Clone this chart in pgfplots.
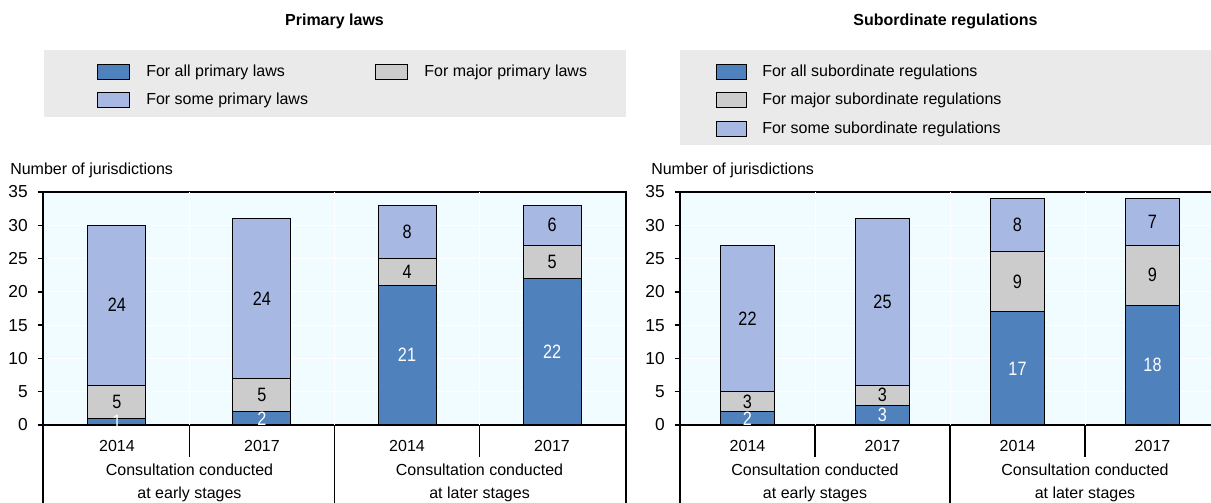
\documentclass[border=0pt]{standalone}
\usepackage{pgfplots}
\pgfplotsset{compat=1.18}
\usepackage{fontspec}
\setmainfont{Liberation Sans}
\newfontfamily\narrowfont{Liberation Sans}[FakeStretch=0.84]
\definecolor{cDark}{RGB}{79,129,189}
\definecolor{cGray}{RGB}{204,204,204}
\definecolor{cLight}{RGB}{167,185,227}
\definecolor{cBg}{RGB}{240,252,255}
\definecolor{cLeg}{RGB}{234,234,234}
\newcommand{\fs}{\fontsize{12}{14}\selectfont}
\newcommand{\fl}{\narrowfont\fontsize{14.5}{16}\selectfont}

\pgfplotsset{
  panel/.style={
    scale only axis,
    anchor=south west,
    height=174.75pt,
    ymin=0, ymax=35,
    ytick={0,5,...,35},
    ytick pos=left,
    xtick={0,1,2,3},
    xticklabels={2014,2017,2014,2017},
    xtick pos=bottom,
    major x tick style={draw=none},
    ymajorgrids,
    major grid style={white, line width=0.75pt},
    extra x ticks={0.5,1.5,2.5},
    extra x tick labels={},
    extra x tick style={grid=major, tick style={draw=none}},
    axis background/.style={fill=cBg},
    axis line style={line width=1pt},
    ybar stacked,
    tick align=outside,
    major tick length=4pt,
    ytick style={line width=1pt, black},
    tick label style={font=\fs},
    /pgf/number format/assume math mode=true,
    yticklabel style={inner sep=0pt, anchor=east, xshift=-7.25pt, font=\fontsize{13}{15}\selectfont},
    xticklabel style={anchor=base, inner sep=0pt, yshift=-15.75pt},
    legend style={draw=none, fill=none, inner sep=0pt, font=\fs, anchor=north west,
      nodes={inner sep=0pt},
      row sep=9.4pt},
    legend cell align=left,
    clip=false,
  },
  labels/.style={
    scale only axis, anchor=south west, height=174.75pt,
    ymin=0, ymax=35, hide axis, clip=false,
  },
  lblw/.style={draw=none, nodes near coords, point meta=explicit symbolic,
    nodes near coords style={anchor=center, text=white, font=\fl, inner sep=0pt}},
  lblb/.style={draw=none, nodes near coords, point meta=explicit symbolic,
    nodes near coords style={anchor=center, text=black, font=\fl, inner sep=0pt}},
  segs/.style={draw=black, line width=0.75pt},
}

\begin{document}
\begin{tikzpicture}
% legend backgrounds
\fill[cLeg] (33pt,289.5pt) rectangle (469.5pt,339.75pt);
\fill[cLeg] (510pt,268.5pt) rectangle (908.25pt,339.75pt);
% titles
\node[font=\fs\bfseries] at (250.9pt,361.5pt) {Primary laws};
\node[font=\fs\bfseries] at (709.1pt,361.5pt) {Subordinate regulations};
\node[font=\fs, anchor=west, inner sep=0pt] at (7.5pt,249.75pt) {Number of jurisdictions};
\node[font=\fs, anchor=west, inner sep=0pt] at (488.25pt,249.75pt) {Number of jurisdictions};

% ---------------- left panel
\begin{axis}[panel, at={(32.25pt,58.5pt)}, width=437.25pt,
  xmin=-0.51, xmax=3.51, bar width=43.5pt,
  legend columns=2,
  legend style={at={(0.0926,1.5515)},
    /tikz/every odd column/.append style={column sep=12pt},
    /tikz/every even column/.append style={column sep=50.5pt}},
  legend image code/.code={\draw[#1, draw=black, line width=0.75pt] (0pt,-5.6pt) rectangle (24pt,5.6pt);},
]
\addplot[segs, fill=cDark] coordinates {(0,1) (1,2) (2,21) (3,22)};
\addlegendentry{For all primary laws}
\addplot[segs, fill=cGray] coordinates {(0,5) (1,5) (2,4) (3,5)};
\addlegendentry{For major primary laws}
\addplot[segs, fill=cLight] coordinates {(0,24) (1,24) (2,8) (3,6)};
\addlegendentry{For some primary laws}
\draw[line width=1pt] (rel axis cs:0,0) -- ++(0pt,-62pt);
\draw[line width=1pt] (axis cs:0.5,0) -- ++(0pt,-24pt);
\draw[line width=1pt] (axis cs:1.5,0) -- ++(0pt,-62pt);
\draw[line width=1pt] (axis cs:2.5,0) -- ++(0pt,-24pt);
\draw[line width=1pt] (rel axis cs:1,0) -- ++(0pt,-62pt);
\node[font=\fs, anchor=base] at ([yshift=-38.25pt]axis cs:0.5,0) {Consultation conducted};
\node[font=\fs, anchor=base] at ([yshift=-55.5pt]axis cs:0.5,0) {at early stages};
\node[font=\fs, anchor=base] at ([yshift=-38.25pt]axis cs:2.5,0) {Consultation conducted};
\node[font=\fs, anchor=base] at ([yshift=-55.5pt]axis cs:2.5,0) {at later stages};
\end{axis}
\begin{axis}[labels, at={(32.25pt,58.5pt)}, width=437.25pt, xmin=-0.51, xmax=3.51]
\addplot[lblw] table[meta=l] {
x y l
0 0.5 1
1 1 2
2 10.5 21
3 11 22
};
\addplot[lblb] table[meta=l] {
x y l
0 3.5 5
1 4.5 5
2 23 4
3 24.5 5
0 18 24
1 19 24
2 29 8
3 30 6
};
\end{axis}

% ---------------- right panel
\begin{axis}[panel, at={(510pt,58.5pt)}, width=405pt,
  xmin=-0.5, xmax=3.5, bar width=40.5pt,
  legend columns=1,
  legend style={at={(0.0667,1.5515)},
    /tikz/every odd column/.append style={column sep=11.25pt}},
  legend image code/.code={\draw[#1, draw=black, line width=0.75pt] (0pt,-5.6pt) rectangle (22.5pt,5.6pt);},
]
\addplot[segs, fill=cDark] coordinates {(0,2) (1,3) (2,17) (3,18)};
\addlegendentry{For all subordinate regulations}
\addplot[segs, fill=cGray] coordinates {(0,3) (1,3) (2,9) (3,9)};
\addlegendentry{For major subordinate regulations}
\addplot[segs, fill=cLight] coordinates {(0,22) (1,25) (2,8) (3,7)};
\addlegendentry{For some subordinate regulations}
\draw[line width=1pt] (rel axis cs:0,0) -- ++(0pt,-62pt);
\draw[line width=1pt] (axis cs:0.5,0) -- ++(0pt,-24pt);
\draw[line width=1pt] (axis cs:1.5,0) -- ++(0pt,-62pt);
\draw[line width=1pt] (axis cs:2.5,0) -- ++(0pt,-24pt);
\node[font=\fs, anchor=base] at ([yshift=-38.25pt]axis cs:0.5,0) {Consultation conducted};
\node[font=\fs, anchor=base] at ([yshift=-55.5pt]axis cs:0.5,0) {at early stages};
\node[font=\fs, anchor=base] at ([yshift=-38.25pt]axis cs:2.5,0) {Consultation conducted};
\node[font=\fs, anchor=base] at ([yshift=-55.5pt]axis cs:2.5,0) {at later stages};
\end{axis}
\begin{axis}[labels, at={(510pt,58.5pt)}, width=405pt, xmin=-0.5, xmax=3.5]
\addplot[lblw] table[meta=l] {
x y l
0 1 2
1 1.5 3
2 8.5 17
3 9 18
};
\addplot[lblb] table[meta=l] {
x y l
0 3.5 3
1 4.5 3
2 21.5 9
3 22.5 9
0 16 22
1 18.5 25
2 30 8
3 30.5 7
};
\end{axis}

\pgfresetboundingbox
\path[use as bounding box] (0pt,0pt) rectangle (908.25pt,377.25pt);
\end{tikzpicture}
\end{document}
